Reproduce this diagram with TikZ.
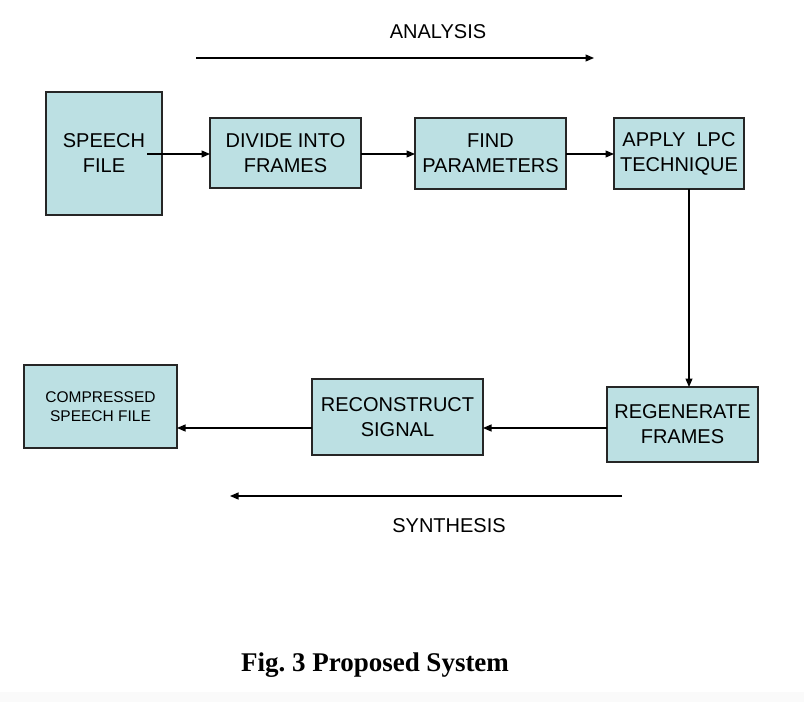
\documentclass[tikz,border=0pt]{standalone}
\usepackage{fontspec}
\setmainfont{Liberation Sans}
\newfontfamily\capfont{Liberation Serif}
\usetikzlibrary{arrows.meta}
\definecolor{boxfill}{RGB}{188,224,227}
\begin{document}
\begin{tikzpicture}[x=1pt,y=-1pt,
  blk/.style={draw=black!85,line width=1.3pt,fill=boxfill,inner sep=0pt,outer sep=0pt,
    align=center,font=\fontsize{20}{25}\selectfont},
  arr/.style={draw=black,line width=1.2pt,-{Triangle[length=8.5pt,width=7pt]}},
  lbl/.style={font=\fontsize{20}{24}\selectfont,inner sep=0pt}]
\useasboundingbox (0,0) rectangle (804,702);
\fill[white] (0,0) rectangle (804,702);
\fill[black!2] (0,692) rectangle (804,702);

\node[blk,minimum width=116pt,minimum height=123pt] (speech) at (104,153.5) {SPEECH\\FILE};
\node[blk,minimum width=151pt,minimum height=70pt] (divide) at (285.5,153) {DIVIDE INTO\\FRAMES};
\node[blk,minimum width=151pt,minimum height=71pt] (find) at (490.5,153.5) {FIND\\PARAMETERS};
\node[blk,minimum width=130pt,minimum height=71pt] (apply) at (679,153.5) {APPLY\ \ LPC\\TECHNIQUE};
\node[blk,minimum width=151pt,minimum height=75pt] (regen) at (682.5,424.5) {REGENERATE\\FRAMES};
\node[blk,minimum width=171pt,minimum height=76pt] (recon) at (397.5,417) {RECONSTRUCT\\SIGNAL};
\node[blk,minimum width=153pt,minimum height=83pt,font=\fontsize{15.5}{19.5}\selectfont] (comp) at (100.5,406.5) {COMPRESSED\\SPEECH FILE};

\coordinate (s0) at (147,154);
\coordinate (ly) at (0,428);
\coordinate (vx) at (689,0);

\draw[arr] (s0) -- (divide.west |- s0);
\draw[arr] (divide.east |- s0) -- (find.west |- s0);
\draw[arr] (find.east |- s0) -- (apply.west |- s0);
\draw[arr] (apply.south -| vx) -- (regen.north -| vx);
\draw[arr] (regen.west |- ly) -- (recon.east |- ly);
\draw[arr] (recon.west |- ly) -- (comp.east |- ly);

\coordinate (a0) at (196,58);
\coordinate (a1) at (594,58);
\draw[arr] (a0) -- (a1);
\node[lbl] (analysis) at (438,32) {ANALYSIS};

\coordinate (b0) at (622,496);
\coordinate (b1) at (230,496);
\draw[arr] (b0) -- (b1);
\node[lbl] (synthesis) at (449,526) {SYNTHESIS};

\node[inner sep=0pt,font=\capfont\bfseries\fontsize{27}{30}\selectfont] (caption) at (375,665) {Fig.~3 Proposed System};
\end{tikzpicture}
\end{document}
